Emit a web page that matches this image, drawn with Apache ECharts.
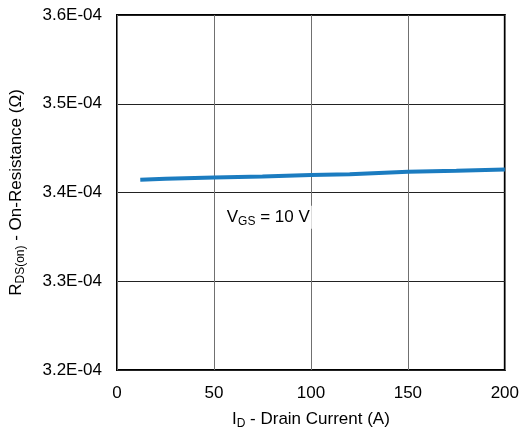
<!DOCTYPE html>
<html><head><meta charset="utf-8">
<script src="https://cdn.jsdelivr.net/npm/echarts@6/dist/echarts.min.js"></script>
<style>html,body{margin:0;padding:0;background:#fff}#c{width:522px;height:437px}</style>
</head><body><div id="c"></div>
<script>
const drainCurrent = [12, 25, 50, 75, 100, 120, 150, 175, 200];
const onResistance = [3.4145e-4, 3.4155e-4, 3.4170e-4, 3.4180e-4, 3.4198e-4, 3.4205e-4, 3.4235e-4, 3.4245e-4, 3.4258e-4];
const xTicks = [0, 50, 100, 150, 200];
const yTicks = [3.2e-4, 3.3e-4, 3.4e-4, 3.5e-4, 3.6e-4];
const annotation = {x: 78, y: 3.372e-4};

const font = '"Liberation Sans", Arial, sans-serif';
const FS = 17;
function fmtE(v){
  const s = v.toExponential(1).split('e');
  const exp = parseInt(s[1],10);
  const sign = exp < 0 ? '-' : '+';
  const a = String(Math.abs(exp)).padStart(2,'0');
  return s[0] + 'E' + sign + a;
}
const chart = echarts.init(document.getElementById('c'));
chart.setOption({
  animation:false,
  backgroundColor:'#fff',
  grid:{left:112, right:15, top:15, bottom:67, show:true, borderColor:'#000', borderWidth:2, backgroundColor:'transparent'},
  xAxis:{type:'value', min:xTicks[0], max:xTicks[xTicks.length-1], interval:50,
    axisLine:{show:false}, axisTick:{show:false},
    splitLine:{show:true, lineStyle:{color:'#707070', width:1}},
    axisLabel:{fontFamily:font, fontSize:FS, color:'#000', margin:15},
    name:'{n|I}{s|D}{n| - Drain Current (A)}', nameLocation:'middle', nameGap:39,
    nameTextStyle:{rich:{n:{fontFamily:font, fontSize:FS, color:'#000'}, s:{fontFamily:font, fontSize:12, color:'#000', padding:[9,0,0,0]}}}
  },
  yAxis:{type:'value', min:yTicks[0], max:yTicks[yTicks.length-1], interval:1e-5,
    axisLine:{show:false}, axisTick:{show:false},
    splitLine:{show:true, lineStyle:{color:'#222', width:1}},
    axisLabel:{fontFamily:font, fontSize:FS, color:'#000', margin:15, formatter:fmtE},
    name:'{n|R}{s|DS(on)}{n| - On-Resistance (Ω)}', nameLocation:'middle', nameGap:90, nameRotate:90,
    nameTextStyle:{rich:{n:{fontFamily:font, fontSize:FS, color:'#000'}, s:{fontFamily:font, fontSize:12, color:'#000', padding:[9,0,0,0]}}}
  },
  series:[{type:'line', data:drainCurrent.map((x,i)=>[x,onResistance[i]]), showSymbol:false, smooth:false,
    lineStyle:{color:'#1B7CC0', width:4}}]
});
const p = chart.convertToPixel({gridIndex:0}, [annotation.x, annotation.y]);
chart.setOption({graphic:[{type:'text', x:p[0], y:p[1], style:{
  text:'{n|V}{s|GS}{n| = 10 V}', align:'center', verticalAlign:'middle',
  rich:{n:{fontFamily:font, fontSize:FS, fill:'#000'}, s:{fontFamily:font, fontSize:12, fill:'#000', padding:[9,0,0,0]}},
  backgroundColor:'#fff', padding:[1,2]}}]});
</script></body></html>
